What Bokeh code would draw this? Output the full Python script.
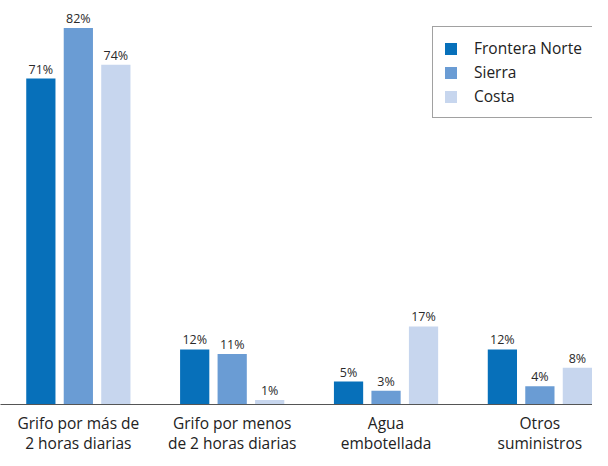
from bokeh.plotting import figure
from bokeh.models import ColumnDataSource, Range1d, FixedTicker, Legend, LegendItem
from bokeh.transform import dodge
from bokeh.core.properties import value
from bokeh.embed import file_html
from bokeh.resources import INLINE

categories = ["Grifo por más de\n2 horas diarias", "Grifo por menos\nde 2 horas diarias",
              "Agua\nembotellada", "Otros\nsuministros"]
series = ["Frontera Norte", "Sierra", "Costa"]
frontera = [71, 12, 5, 12]
sierra = [82, 11, 3, 4]
costa = [74, 1, 17, 8]
colors = ["#0770BA", "#6A9CD4", "#C7D6EE"]

FONT = "Open Sans"
x = list(range(len(categories)))
src = ColumnDataSource(dict(
    x=x,
    f=frontera, s=sierra, c=costa,
    fl=[f"{v}%" for v in frontera],
    sl=[f"{v}%" for v in sierra],
    cl=[f"{v}%" for v in costa],
))

p = figure(frame_width=592, frame_height=404, x_range=Range1d(-0.506, 3.342), y_range=Range1d(0, 88),
           output_backend="svg", toolbar_location=None, y_axis_location=None,
           min_border_left=0, min_border_right=0, min_border_top=0, min_border_bottom=46)
p.grid.visible = False
p.outline_line_color = None
p.background_fill_color = "white"

offs = [-0.2437, 0.0, 0.2437]
cols = ["f", "s", "c"]
labs = ["fl", "sl", "cl"]
items = []
for name, col, lab, off, color in zip(series, cols, labs, offs, colors):
    r = p.vbar(x=dodge("x", off, range=p.x_range), top=col, width=0.19, bottom=0,
               source=src, fill_color=color, line_color=None)
    p.text(x=dodge("x", off, range=p.x_range), y=col, text=lab, source=src,
           text_align="center", text_baseline="bottom", y_offset=-1,
           text_font=value(FONT), text_font_size="12.5px", text_color="#2a2a2a")
    items.append(LegendItem(label=name, renderers=[r]))

ax = p.xaxis[0]
ax.ticker = FixedTicker(ticks=x)
ax.major_label_overrides = {i: c for i, c in zip(x, categories)}
ax.axis_line_color = "#555555"
ax.axis_line_width = 1
ax.major_tick_line_color = None
ax.minor_tick_line_color = None
ax.major_tick_out = 0
ax.major_tick_in = 0
ax.major_label_standoff = 7
ax.major_label_text_font = FONT
ax.major_label_text_font_size = "15.5px"
ax.major_label_text_line_height = 0.95
ax.major_label_text_color = "#222222"

legend = Legend(items=items, orientation="vertical")
legend.glyph_width = 15
legend.glyph_height = 15
legend.label_height = 15
legend.spacing = 2
legend.padding = 10
legend.margin = 0
legend.label_standoff = 16
legend.label_text_font = FONT
legend.label_text_font_size = "15.5px"
legend.label_text_color = "#222222"
legend.border_line_color = "#444444"
legend.border_line_width = 1
legend.background_fill_alpha = 1
legend.location = (432, 286)
p.add_layout(legend, "center")

open("out.html", "w").write(file_html(p, INLINE))
